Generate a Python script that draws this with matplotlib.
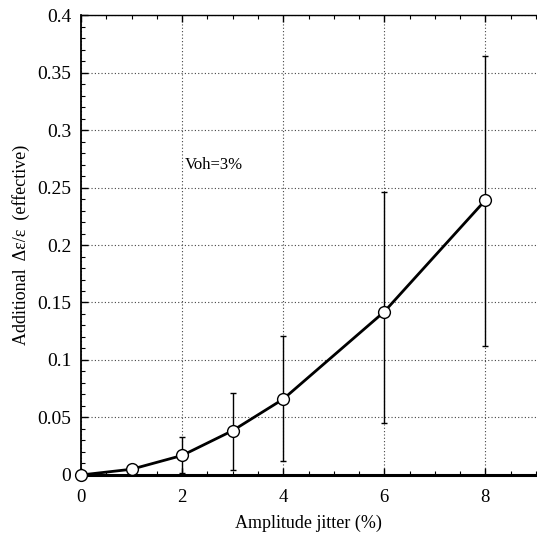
import matplotlib
matplotlib.use("Agg")
import matplotlib.pyplot as plt
from matplotlib.ticker import MultipleLocator

jitter = [0, 1, 2, 3, 4, 6, 8]
delta = [0.0, 0.005, 0.017, 0.0386, 0.066, 0.142, 0.239]
err_hi = [0.0, 0.005, 0.0334, 0.071, 0.121, 0.246, 0.364]
err_lo = [0.0, 0.005, 0.002, 0.0043, 0.012, 0.045, 0.112]
xticks = [0, 2, 4, 6, 8]
yticks = [0, 0.05, 0.1, 0.15, 0.2, 0.25, 0.3, 0.35, 0.4]
ytick_labels = ["0", "0.05", "0.1", "0.15", "0.2", "0.25", "0.3", "0.35", "0.4"]

plt.rcParams['font.family'] = ['Liberation Serif', 'DejaVu Serif']

fig = plt.figure(figsize=(5.37, 5.37), dpi=100)
ax = fig.add_axes([0.151, 0.1155, 0.847, 0.8565])

lower = [d - l for d, l in zip(delta, err_lo)]
upper = [h - d for d, h in zip(delta, err_hi)]
ax.errorbar(jitter, delta, yerr=[lower, upper], fmt='none', ecolor='black',
            elinewidth=1.0, capsize=2, capthick=1.0, zorder=2)
ax.plot(jitter, delta, color='black', lw=2, marker='o', markersize=8.5,
        markerfacecolor='white', markeredgecolor='black', markeredgewidth=1.0,
        zorder=3, clip_on=False)

ax.set_xlim(0, 9)
ax.set_ylim(0, 0.4)
ax.set_xticks(xticks)
ax.set_xticklabels([str(t) for t in xticks], fontsize=13.5)
ax.set_yticks(yticks)
ax.set_yticklabels(ytick_labels, fontsize=14)
ax.xaxis.set_minor_locator(MultipleLocator(0.5))
ax.yaxis.set_minor_locator(MultipleLocator(0.01))
ax.tick_params(which='both', direction='in', top=True, right=False)
ax.tick_params(which='major', length=5, width=1)
ax.tick_params(which='minor', length=3, width=0.8)
ax.tick_params(axis='x', which='major', pad=10)
ax.tick_params(axis='y', which='major', pad=7)
ax.grid(True, which='major', linestyle=(0, (1, 2)), color='#444444', linewidth=0.8)

ax.spines['right'].set_visible(False)
ax.spines['bottom'].set_linewidth(2.2)
ax.spines['left'].set_linewidth(1.3)
ax.spines['top'].set_linewidth(1.0)

ax.set_xlabel('Amplitude jitter (%)', fontsize=13, labelpad=6)
ax.set_ylabel('Additional  Δε/ε  (effective)', fontsize=13, labelpad=5)
ax.text(2.05, 0.27, 'Voh=3%', fontsize=12, ha='left', va='center')

fig.savefig('out.png', dpi=100)
